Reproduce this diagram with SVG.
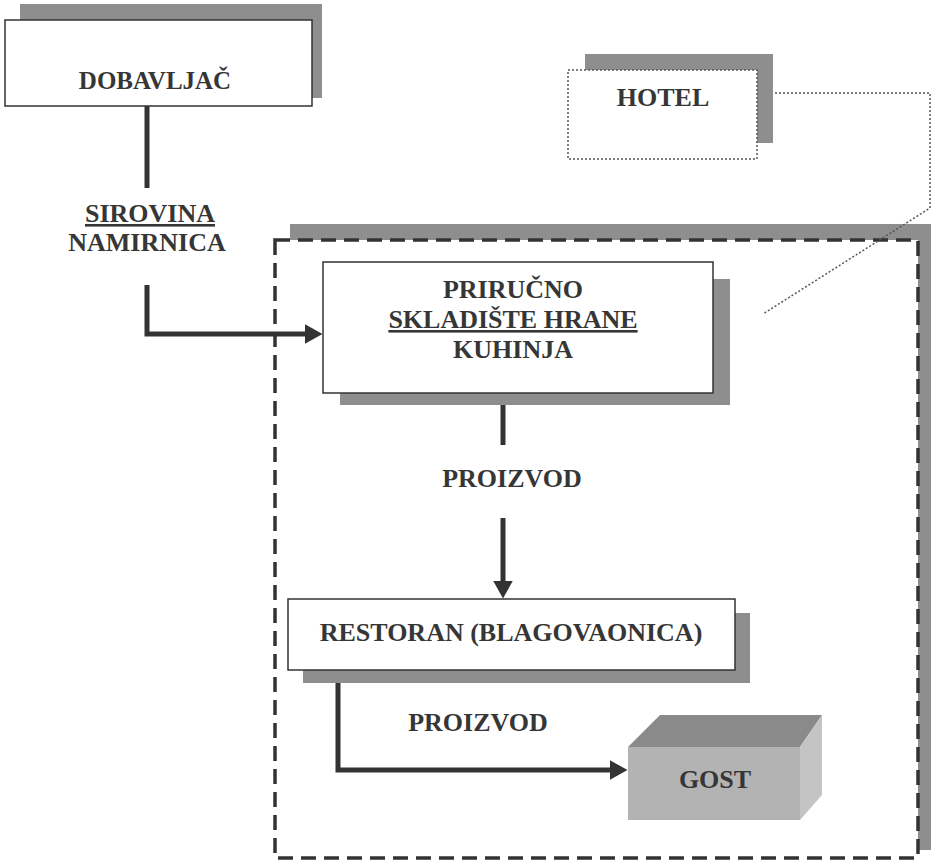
<svg xmlns="http://www.w3.org/2000/svg" width="931" height="866" viewBox="0 0 931 866">
<defs>
<style>
.lbl{font-family:"Liberation Serif","Times New Roman",serif;font-weight:bold;fill:#363636;text-anchor:middle;font-size:26px}
.box{fill:#fff;stroke:#333;stroke-width:1.5}
.shadow{fill:#8e8e8e}
.flow{fill:none;stroke:#333;stroke-width:5}
.dot{fill:none;stroke:#555;stroke-width:1.5;stroke-dasharray:2 2}
</style>
<marker id="arr" markerWidth="4" markerHeight="4" refX="0.1" refY="2" orient="auto" markerUnits="strokeWidth">
<path d="M0,0 L3.6,2 L0,4 Z" fill="#333"/>
</marker>
</defs>
<rect width="931" height="866" fill="#fff"/>

<g id="hotel-area">
<rect class="shadow" x="290" y="224" width="641" height="626"/>
<rect x="275" y="240" width="643" height="618" fill="#fff" stroke="#333" stroke-width="3.5" stroke-dasharray="15 8"/>
</g>

<g id="dobavljac">
<rect class="shadow" x="20" y="4" width="302" height="94"/>
<rect class="box" x="5" y="20" width="307" height="86"/>
<text class="lbl" x="155" y="89" style="font-size:25px">DOBAVLJAČ</text>
</g>

<g id="hotel">
<rect class="shadow" x="585" y="54" width="188" height="89"/>
<rect x="568" y="70" width="189" height="89" fill="#fff" stroke="#555" stroke-width="1.5" stroke-dasharray="2 2"/>
<text class="lbl" x="663" y="106">HOTEL</text>
</g>

<g id="skladiste">
<rect class="shadow" x="340" y="279" width="390" height="126"/>
<rect class="box" x="323" y="262" width="390" height="131"/>
<text class="lbl" x="513" y="298">PRIRUČNO</text>
<text class="lbl" x="513" y="328" text-decoration="underline">SKLADIŠTE HRANE</text>
<text class="lbl" x="513" y="358">KUHINJA</text>
</g>

<g id="restoran">
<rect class="shadow" x="303" y="613" width="447" height="70"/>
<rect class="box" x="288" y="599" width="447" height="71"/>
<text class="lbl" x="511" y="641">RESTORAN (BLAGOVAONICA)</text>
</g>

<g id="gost">
<polygon points="628,747 660,715 822,715 800,747" fill="#8a8a8a"/>
<polygon points="800,747 822,715 822,795 800,820" fill="#c4c4c4"/>
<rect x="628" y="747" width="172" height="73" fill="#b3b3b3"/>
<text class="lbl" x="715" y="788">GOST</text>
</g>

<g id="labels">
<text class="lbl" x="150" y="222" text-decoration="underline">SIROVINA</text>
<text class="lbl" x="147" y="251">NAMIRNICA</text>
<text class="lbl" x="512" y="487">PROIZVOD</text>
<text class="lbl" x="478" y="731">PROIZVOD</text>
</g>

<g id="connectors">
<line class="flow" x1="147" y1="106" x2="147" y2="188"/>
<polyline class="flow" points="147,285 147,334 305,334" marker-end="url(#arr)"/>
<line class="flow" x1="503" y1="405" x2="503" y2="445"/>
<line class="flow" x1="503" y1="518" x2="503" y2="581" marker-end="url(#arr)"/>
<polyline class="flow" points="338,683 338,770 610,770" marker-end="url(#arr)"/>
<polyline class="dot" points="775,93 930,93 930,208 763,314"/>
</g>
</svg>
